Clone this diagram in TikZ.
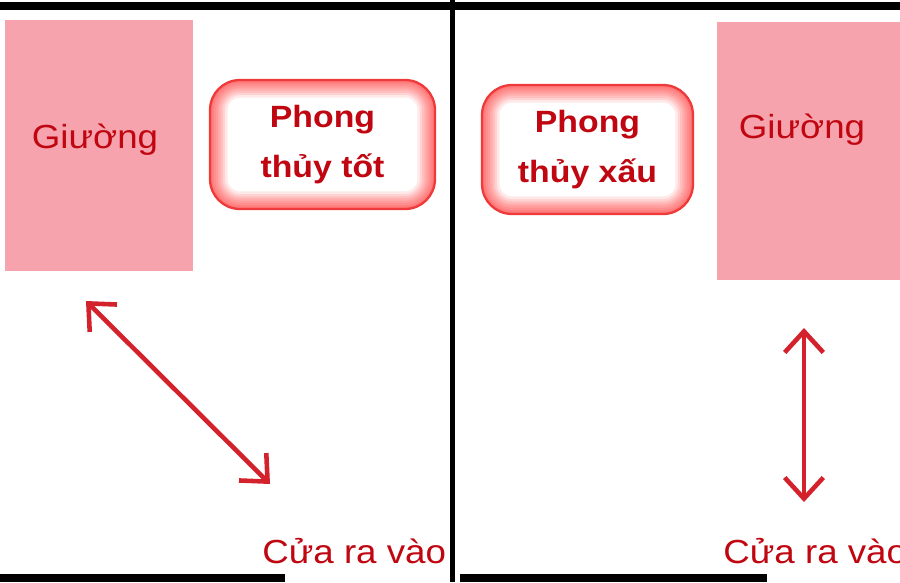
\documentclass[tikz,border=0pt]{standalone}
\usepackage{fontspec}
\setmainfont[FakeStretch=1.1]{Liberation Sans}
\usetikzlibrary{arrows.meta}
\definecolor{BedPink}{RGB}{247,163,174}
\definecolor{DarkRed}{RGB}{192,6,16}
\definecolor{ArrowRed}{RGB}{212,34,44}
\definecolor{GlowRed}{RGB}{238,58,58}

\begin{document}
\begin{tikzpicture}
[
x=0.02cm, y=-0.02cm,
Wall/.style={draw=black, line width=4pt},
Divider/.style={draw=black, line width=2.8pt},
Bed/.style={rectangle, fill=BedPink, draw=none, inner sep=0pt},
BedText/.style={anchor=base, inner sep=0pt, text=DarkRed, font=\fontsize{19}{23}\selectfont},
DoorText/.style={anchor=base west, inner sep=0pt, text=DarkRed, font=\fontsize{19}{23}\selectfont},
Glow/.style={draw=red, opacity=0.09, rounded corners=17pt},
GlowBox/.style={rectangle, rounded corners=17pt, draw=GlowRed, line width=1.3pt, fill=white,
  minimum height=2.58cm, align=center, text=DarkRed, inner sep=0pt,
  font=\fontsize{17.5}{28}\selectfont\bfseries,
  path picture={
    \draw[Glow, line width=20pt] (path picture bounding box.south west) rectangle (path picture bounding box.north east);
    \draw[Glow, line width=17pt] (path picture bounding box.south west) rectangle (path picture bounding box.north east);
    \draw[Glow, line width=14.5pt] (path picture bounding box.south west) rectangle (path picture bounding box.north east);
    \draw[Glow, line width=12pt] (path picture bounding box.south west) rectangle (path picture bounding box.north east);
    \draw[Glow, line width=9.5pt] (path picture bounding box.south west) rectangle (path picture bounding box.north east);
    \draw[Glow, line width=7pt] (path picture bounding box.south west) rectangle (path picture bounding box.north east);
    \draw[Glow, line width=4.5pt] (path picture bounding box.south west) rectangle (path picture bounding box.north east);
    \draw[Glow, line width=2.5pt] (path picture bounding box.south west) rectangle (path picture bounding box.north east);
  }},
RedArrow/.style={{Straight Barb[length=12pt,width=22pt]}-{Straight Barb[length=12pt,width=22pt]}, draw=ArrowRed, line width=2.6pt},
]

\useasboundingbox (0,0) rectangle (900,582);
\clip (0,0) rectangle (900,582);

% walls
\draw[Wall] (0,6)--(900,6);
\draw[Divider] (452.5,0)--(452.5,582);
\draw[Wall] (0,578)--(285,578);
\draw[Wall] (460,578)--(767,578);

% left room: good
\node[Bed, minimum width=3.76cm, minimum height=5.02cm] (bedL) at (99,145.5) {};
\node[BedText] (bedLtext) at (95,148) {Giường};

\node[GlowBox, minimum width=4.5cm] (good) at (322.5,144.5) {Phong\\thủy tốt};

\coordinate (goodA) at (86,301);
\coordinate (goodB) at (270,484);
\draw[RedArrow] (goodA)--(goodB);

\node[DoorText] (doorL) at (262,563) {Cửa ra vào};

% right room: bad
\node[Bed, minimum width=3.7cm, minimum height=5.16cm] (bedR) at (809.5,151) {};
\node[BedText] (bedRtext) at (802,138) {Giường};

\node[GlowBox, minimum width=4.22cm] (bad) at (587.5,149.5) {Phong\\thủy xấu};

\coordinate (badA) at (804,328);
\coordinate (badB) at (804,502);
\draw[RedArrow] (badA)--(badB);

\node[DoorText] (doorR) at (723,563) {Cửa ra vào};

\end{tikzpicture}
\end{document}
